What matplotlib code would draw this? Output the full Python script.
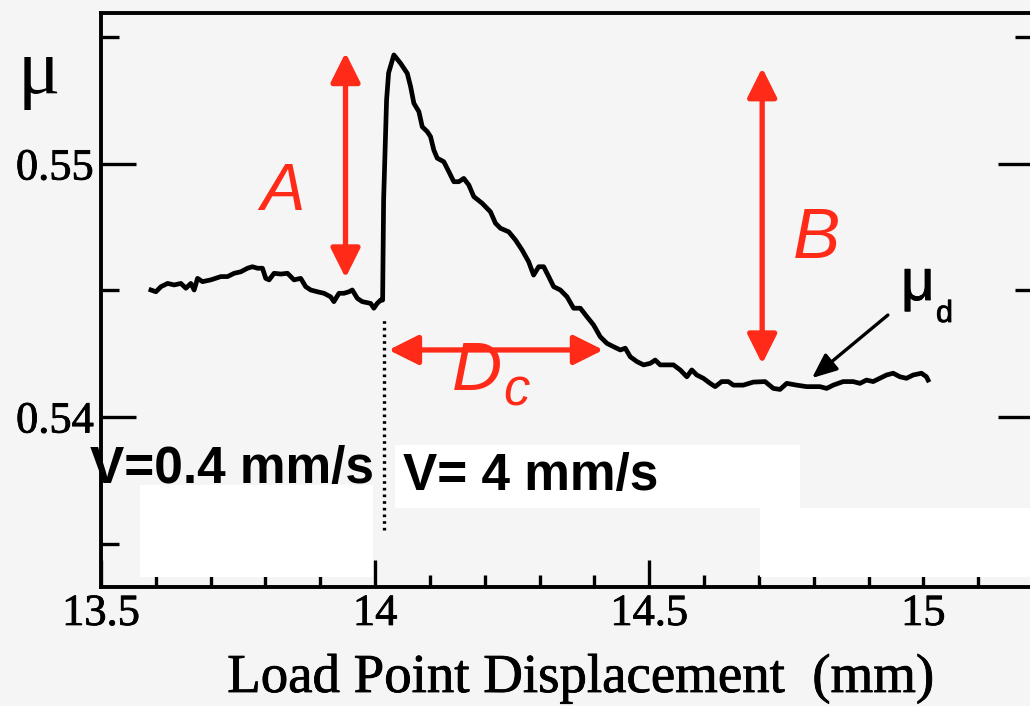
import matplotlib
matplotlib.use("Agg")
import matplotlib.pyplot as plt
import matplotlib.patheffects as pe
from matplotlib.patches import Rectangle
from matplotlib.ticker import FixedLocator, MultipleLocator

plt.rcParams['font.family'] = ['Liberation Serif', 'DejaVu Serif']

# Friction trace across a velocity step (0.4 -> 4 mm/s)
displacement = [
    13.5911, 13.6002, 13.6093, 13.6215, 13.6335, 13.6457, 13.6548, 13.6639, 13.6699, 13.6761,
    13.6852, 13.7003, 13.7186, 13.7308, 13.7428, 13.7550, 13.7672, 13.7761, 13.7854, 13.7945,
    13.8005, 13.8066, 13.8157, 13.8279, 13.8401, 13.8521, 13.8643, 13.8734, 13.8825, 13.8947,
    13.9067, 13.9189, 13.9248, 13.9341, 13.9432, 13.9523, 13.9583, 13.9676, 13.9765, 13.9918,
    13.9977, 14.0038, 14.0100, 14.0137, 14.0155, 14.0209, 14.0246, 14.0342, 14.0464, 14.0587,
    14.0647, 14.0707, 14.0798, 14.0860, 14.0951, 14.1011, 14.1071, 14.1133, 14.1253, 14.1344,
    14.1435, 14.1526, 14.1617, 14.1709, 14.1800, 14.1951, 14.2104, 14.2195, 14.2286, 14.2437,
    14.2559, 14.2681, 14.2800, 14.2891, 14.2984, 14.3075, 14.3166, 14.3257, 14.3379, 14.3501,
    14.3620, 14.3743, 14.3865, 14.3984, 14.4107, 14.4229, 14.4348, 14.4472, 14.4563, 14.4654,
    14.4776, 14.4896, 14.5018, 14.5109, 14.5200, 14.5322, 14.5441, 14.5565, 14.5686, 14.5776,
    14.5867, 14.5987, 14.6111, 14.6202, 14.6322, 14.6444, 14.6534, 14.6716, 14.6898, 14.7113,
    14.7264, 14.7386, 14.7508, 14.7689, 14.7871, 14.8115, 14.8236, 14.8356, 14.8537, 14.8719,
    14.8843, 14.8963, 14.9084, 14.9208, 14.9328, 14.9450, 14.9572, 14.9692, 14.9814, 14.9965,
    15.0056, 15.0086,
]
friction = [
    0.54502, 0.54495, 0.54515, 0.54528, 0.54522, 0.54528, 0.54509, 0.54528, 0.54502, 0.54548,
    0.54535, 0.54542, 0.54555, 0.54555, 0.54568, 0.54574, 0.54588, 0.54594, 0.54588, 0.54588,
    0.54548, 0.54542, 0.54568, 0.54565, 0.54568, 0.54542, 0.54548, 0.54515, 0.54502, 0.54495,
    0.54489, 0.54475, 0.54456, 0.54489, 0.54489, 0.54495, 0.54502, 0.54469, 0.54456, 0.54449,
    0.54430, 0.54449, 0.54462, 0.54462, 0.54858, 0.55253, 0.55360, 0.55431, 0.55398, 0.55358,
    0.55306, 0.55240, 0.55207, 0.55147, 0.55128, 0.55108, 0.55055, 0.55023, 0.55009, 0.54970,
    0.54930, 0.54930, 0.54943, 0.54917, 0.54871, 0.54845, 0.54811, 0.54766, 0.54746, 0.54732,
    0.54700, 0.54660, 0.54614, 0.54561, 0.54594, 0.54594, 0.54555, 0.54515, 0.54502, 0.54475,
    0.54430, 0.54430, 0.54396, 0.54364, 0.54317, 0.54291, 0.54278, 0.54265, 0.54272, 0.54238,
    0.54219, 0.54206, 0.54212, 0.54225, 0.54206, 0.54206, 0.54206, 0.54186, 0.54159, 0.54186,
    0.54166, 0.54153, 0.54133, 0.54120, 0.54140, 0.54140, 0.54126, 0.54126, 0.54138, 0.54140,
    0.54113, 0.54109, 0.54133, 0.54126, 0.54120, 0.54120, 0.54113, 0.54126, 0.54140, 0.54140,
    0.54133, 0.54146, 0.54140, 0.54153, 0.54166, 0.54173, 0.54159, 0.54153, 0.54166, 0.54173,
    0.54159, 0.54146,
]

x_major = [13.5, 14.0, 14.5, 15.0]
x_major_labels = ["13.5", "14", "14.5", "15"]
y_major = [0.54, 0.55]
y_major_labels = ["0.54", "0.55"]
y_minor = [0.535, 0.545, 0.555]

step_position = 14.0155
step_span = (0.53553, 0.54383)

# annotation anchors (data units)
arrow_A = (13.946, 0.5544, 0.5455)          # x, top, bottom
arrow_B = (14.706, 0.5538, 0.5421)
arrow_Dc = (14.0246, 14.4162, 0.54265)      # left, right, y
arrow_mud = ((14.9353, 0.54403), (14.7969, 0.54154))

RED = '#ff2a17'
BG = '#f5f5f5'
W, H = 1030, 706

# printed-type look: slightly heavier strokes on the serif lettering
ink = [pe.withStroke(linewidth=0.6, foreground='black')]


def px(x, y):
    return x / W, 1 - y / H


fig = plt.figure(figsize=(W / 100, H / 100), dpi=100, facecolor=BG)
ax = fig.add_axes([101 / W, 1 - 587 / H, 932 / W, 574 / H])
ax.set_facecolor(BG)

ax.plot(displacement, friction, color='black', lw=3.4, solid_joinstyle='round', zorder=5)
ax.plot([step_position, step_position], step_span, color='black', lw=2.4,
        linestyle=(0, (0.8, 1.2)), zorder=5)

ax.set_xlim(13.5, 15.2)
ax.set_ylim(0.533281, 0.555968)

ax.xaxis.set_major_locator(FixedLocator(x_major))
ax.set_xticklabels(x_major_labels)
ax.xaxis.set_minor_locator(MultipleLocator(0.1))
ax.yaxis.set_major_locator(FixedLocator(y_major))
ax.set_yticklabels(y_major_labels)
ax.yaxis.set_minor_locator(FixedLocator(y_minor))
for lbl in ax.get_xticklabels() + ax.get_yticklabels():
    lbl.set_path_effects(ink)

for side in ['left', 'right', 'top', 'bottom']:
    ax.spines[side].set_linewidth(2.8)
ax.xaxis.set_tick_params(which='major', direction='in', length=19.5, width=2.4,
                         labelsize=32, pad=5, top=False)
ax.xaxis.set_tick_params(which='minor', direction='in', length=8.6, width=2.4, top=False)
ax.yaxis.set_tick_params(which='major', direction='in', length=25, width=2.4,
                         labelsize=32, pad=5, right=True)
ax.yaxis.set_tick_params(which='minor', direction='in', length=13, width=2.4, right=True)

# white label boxes
for (x0, y0, x1, y1) in [(140, 485, 373, 577), (395, 445, 800, 508), (760, 508, 1030, 577)]:
    fx0, fy1 = px(x0, y0)
    fx1, fy0 = px(x1, y1)
    fig.patches.append(Rectangle((fx0, fy0), fx1 - fx0, fy1 - fy0, transform=fig.transFigure,
                                 facecolor='white', edgecolor='none', zorder=3))

# red measurement arrows
red_style = dict(arrowstyle='<|-|>,head_length=0.9,head_width=0.45', color=RED, lw=3.8,
                 mutation_scale=20, shrinkA=0, shrinkB=0)
ax.annotate('', xy=(arrow_A[0], arrow_A[1]), xytext=(arrow_A[0], arrow_A[2]),
            arrowprops=red_style, zorder=6)
ax.annotate('', xy=(arrow_B[0], arrow_B[1]), xytext=(arrow_B[0], arrow_B[2]),
            arrowprops=red_style, zorder=6)
ax.annotate('', xy=(arrow_Dc[0], arrow_Dc[2]), xytext=(arrow_Dc[1], arrow_Dc[2]),
            arrowprops=red_style, zorder=6)
ax.annotate('', xy=arrow_mud[1], xytext=arrow_mud[0],
            arrowprops=dict(arrowstyle='-|>,head_length=0.75,head_width=0.32', color='black',
                            lw=2.4, mutation_scale=20, shrinkA=0, shrinkB=0), zorder=6)

sans = ['Liberation Sans', 'DejaVu Sans']
fig.text(*px(260, 210), 'A', color=RED, fontsize=48, style='italic', family=sans,
         ha='left', va='baseline', zorder=7)
fig.text(*px(793, 258), 'B', color=RED, fontsize=51, style='italic', family=sans,
         ha='left', va='baseline', zorder=7)
fig.text(*px(452, 390), 'D', color=RED, fontsize=50, style='italic', family=sans,
         ha='left', va='baseline', zorder=7)
fig.text(*px(503, 405), 'c', color=RED, fontsize=38, style='italic', family=sans,
         ha='left', va='baseline', zorder=7)

fig.text(*px(90, 483), 'V=0.4 mm/s', color='black', fontsize=37, weight='bold', family=sans,
         ha='left', va='baseline', zorder=7)
fig.text(*px(403, 490), 'V= 4 mm/s', color='black', fontsize=37, weight='bold', family=sans,
         ha='left', va='baseline', zorder=7)

fig.text(*px(901, 300), 'μ', color='black', fontsize=42, family=sans,
         ha='left', va='baseline', zorder=7, path_effects=ink)
fig.text(*px(936, 322), 'd', color='black', fontsize=22, family=sans,
         ha='left', va='baseline', zorder=7, path_effects=ink)

fig.text(*px(18, 93), 'μ', color='black', fontsize=57, ha='left', va='baseline')
fig.text(*px(581, 692), 'Load Point Displacement  (mm)', color='black', fontsize=39.5,
         ha='center', va='baseline', path_effects=ink)

fig.savefig('out.png', dpi=100, facecolor=BG)
